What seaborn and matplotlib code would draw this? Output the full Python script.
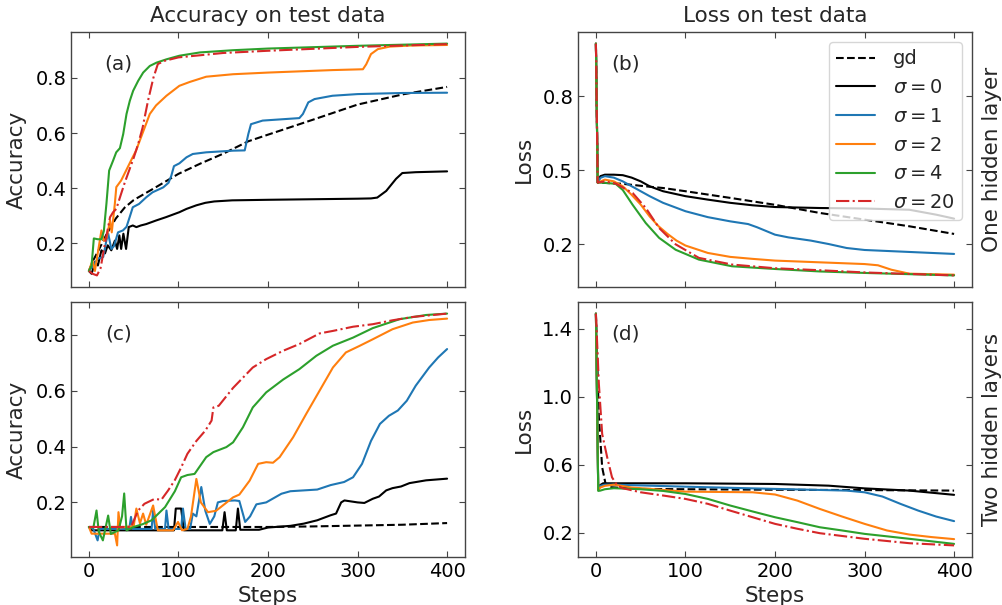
import matplotlib
matplotlib.use("Agg")
import matplotlib.pyplot as plt
import seaborn as sns
import pandas as pd

# ---------------- data ----------------
LABELS = ["gd", r"$\sigma = 0$", r"$\sigma = 1$", r"$\sigma = 2$", r"$\sigma = 4$", r"$\sigma = 20$"]
XTICKS = [0, 100, 200, 300, 400]

# (a) accuracy, one hidden layer
A_GD_X = [0, 5, 10, 20, 30, 40, 50, 75, 100, 125, 150, 178, 200, 250, 300, 352, 400]
A_GD_Y = [0.10, 0.14, 0.17, 0.235, 0.29, 0.33, 0.357, 0.404, 0.452, 0.49, 0.525, 0.57, 0.594, 0.648, 0.703, 0.741, 0.767]
A_S0_X = [0, 3, 7, 10, 14, 18, 21, 25, 29, 31.5, 34, 36, 38.5, 41.5, 44.5, 49, 53, 58, 64, 75, 86, 101, 109, 120, 130, 140, 160, 200, 250, 300, 315, 322, 332, 343, 350, 365, 400]
A_S0_Y = [0.10, 0.09, 0.133, 0.12, 0.175, 0.164, 0.193, 0.175, 0.21, 0.18, 0.229, 0.18, 0.235, 0.18, 0.259, 0.265, 0.259, 0.265, 0.27, 0.283, 0.295, 0.313, 0.325, 0.338, 0.347, 0.352, 0.356, 0.358, 0.360, 0.362, 0.363, 0.366, 0.39, 0.434, 0.455, 0.458, 0.461]
A_S1_X = [0, 5, 10, 16, 19.5, 21.5, 25, 28, 32.5, 38, 42, 45.5, 49, 56, 64, 71, 83, 89, 92, 95, 101, 109, 116, 131, 161, 174, 178, 181, 194, 235, 239, 245, 252, 272, 300, 350, 400]
A_S1_Y = [0.10, 0.12, 0.145, 0.151, 0.21, 0.236, 0.18, 0.19, 0.24, 0.247, 0.26, 0.295, 0.331, 0.343, 0.367, 0.385, 0.403, 0.42, 0.445, 0.48, 0.49, 0.512, 0.524, 0.53, 0.536, 0.537, 0.596, 0.632, 0.645, 0.654, 0.669, 0.711, 0.723, 0.735, 0.741, 0.745, 0.746]
A_S2_X = [0, 4, 6.7, 10.4, 14, 16.7, 19.6, 23.6, 25.5, 29, 30.6, 36, 41.5, 47, 52.6, 60, 68, 75, 86.6, 101, 112.6, 131, 161, 200, 272, 306, 309.7, 315, 322.7, 335.7, 360, 400]
A_S2_Y = [0.10, 0.138, 0.10, 0.175, 0.247, 0.21, 0.218, 0.283, 0.24, 0.345, 0.404, 0.428, 0.464, 0.50, 0.536, 0.60, 0.669, 0.70, 0.735, 0.771, 0.785, 0.804, 0.813, 0.819, 0.828, 0.831, 0.849, 0.886, 0.904, 0.913, 0.917, 0.919]
A_S4_X = [0, 3, 5.5, 10, 14, 16.7, 19.6, 22.6, 27, 30.5, 34.6, 38.3, 42, 45.7, 49.4, 55, 60.6, 68, 75.5, 86.6, 101, 124, 161, 200, 250, 300, 350, 400]
A_S4_Y = [0.10, 0.12, 0.218, 0.215, 0.215, 0.245, 0.345, 0.464, 0.50, 0.53, 0.545, 0.596, 0.669, 0.717, 0.753, 0.789, 0.819, 0.843, 0.855, 0.867, 0.88, 0.892, 0.90, 0.906, 0.911, 0.916, 0.92, 0.924]
A_S20_X = [0, 4, 9, 13, 18, 23.6, 27, 30.6, 35, 40, 45, 50, 55, 60, 66, 72, 77, 85, 100, 150, 200, 300, 400]
A_S20_Y = [0.10, 0.09, 0.084, 0.11, 0.20, 0.295, 0.313, 0.325, 0.37, 0.42, 0.465, 0.51, 0.56, 0.62, 0.717, 0.80, 0.85, 0.862, 0.874, 0.89, 0.898, 0.912, 0.922]

# (b) loss, one hidden layer
B_GD_X = [0, 2, 30, 55, 75, 100, 150, 200, 250, 300, 350, 400]
B_GD_Y = [1.013, 0.45, 0.445, 0.435, 0.428, 0.415, 0.388, 0.36, 0.327, 0.30, 0.273, 0.242]
B_S0_X = [0, 2, 5, 10, 20, 30, 40, 50, 60, 75, 100, 125, 150, 175, 200, 250, 300, 350, 380, 400]
B_S0_Y = [1.013, 0.45, 0.476, 0.482, 0.482, 0.48, 0.47, 0.455, 0.435, 0.415, 0.395, 0.381, 0.368, 0.358, 0.351, 0.347, 0.345, 0.34, 0.32, 0.304]
B_S1_X = [0, 2, 5, 10, 20, 30, 40, 50, 60, 75, 100, 125, 150, 170, 180, 200, 215, 240, 260, 280, 300, 350, 400]
B_S1_Y = [1.013, 0.45, 0.469, 0.476, 0.47, 0.455, 0.435, 0.415, 0.395, 0.368, 0.334, 0.31, 0.293, 0.282, 0.269, 0.239, 0.228, 0.215, 0.201, 0.185, 0.177, 0.169, 0.161]
B_S2_X = [0, 2, 10, 20, 30, 40, 50, 60, 70, 80, 90, 100, 125, 150, 175, 200, 250, 300, 315, 330, 350, 400]
B_S2_Y = [1.013, 0.45, 0.462, 0.455, 0.435, 0.40, 0.361, 0.313, 0.273, 0.242, 0.215, 0.195, 0.165, 0.149, 0.141, 0.134, 0.127, 0.12, 0.115, 0.097, 0.081, 0.077]
B_S4_X = [0, 2, 10, 22, 30, 41, 55.7, 70.6, 89, 115, 152, 200, 250, 300, 400]
B_S4_Y = [1.013, 0.45, 0.449, 0.445, 0.42, 0.36, 0.286, 0.226, 0.178, 0.138, 0.111, 0.10, 0.09, 0.084, 0.074]
B_S20_X = [0, 2, 10, 22, 30, 41, 55.7, 70.6, 89, 115, 152, 200, 250, 300, 400]
B_S20_Y = [1.013, 0.45, 0.455, 0.446, 0.43, 0.408, 0.347, 0.266, 0.20, 0.145, 0.118, 0.103, 0.095, 0.086, 0.074]

# (c) accuracy, two hidden layers
C_GD_X = [0, 100, 200, 250, 300, 350, 400]
C_GD_Y = [0.112, 0.112, 0.112, 0.114, 0.117, 0.12, 0.126]
C_S0_X = [0, 3, 95, 97, 103, 106, 149, 151.5, 154, 164, 166.4, 169, 190, 200, 225, 240, 255, 270, 276, 281.7, 285.4, 300, 307.6, 317, 324, 332, 339, 348.6, 358, 376.5, 400]
C_S0_Y = [0.112, 0.1, 0.1, 0.178, 0.178, 0.1, 0.1, 0.165, 0.1, 0.1, 0.178, 0.102, 0.102, 0.11, 0.116, 0.124, 0.136, 0.154, 0.16, 0.2, 0.207, 0.2, 0.198, 0.213, 0.221, 0.243, 0.251, 0.257, 0.269, 0.279, 0.285]
C_S1_X = [0, 5, 9.7, 12, 45, 47, 49, 70, 71.7, 74, 85, 86.6, 89, 103, 105, 108, 113, 116, 120, 125.5, 130, 135, 140, 144, 150, 163, 168, 174.5, 180, 187, 198, 215, 225, 240, 255, 270, 285, 295, 305, 315, 325, 335, 345, 355, 365, 380, 390, 400]
C_S1_Y = [0.112, 0.105, 0.064, 0.105, 0.105, 0.148, 0.105, 0.105, 0.171, 0.105, 0.105, 0.171, 0.105, 0.105, 0.178, 0.105, 0.105, 0.16, 0.15, 0.255, 0.17, 0.123, 0.15, 0.2, 0.205, 0.207, 0.205, 0.13, 0.15, 0.193, 0.2, 0.231, 0.24, 0.243, 0.246, 0.262, 0.273, 0.29, 0.338, 0.42, 0.481, 0.51, 0.529, 0.564, 0.618, 0.683, 0.719, 0.749]
C_S2_X = [0, 3, 29, 31.5, 33, 35, 50, 53, 57, 60.5, 64, 71.7, 77, 94, 99.5, 104, 110, 114, 120, 125, 133, 142, 161, 168, 179.5, 189, 198, 205.6, 213, 228, 242.7, 257.6, 272.5, 287, 302, 317, 339, 361.7, 380, 400]
C_S2_Y = [0.112, 0.088, 0.088, 0.046, 0.165, 0.11, 0.115, 0.178, 0.125, 0.16, 0.12, 0.189, 0.1, 0.1, 0.13, 0.1, 0.105, 0.15, 0.284, 0.2, 0.165, 0.17, 0.218, 0.228, 0.278, 0.338, 0.344, 0.342, 0.362, 0.433, 0.517, 0.60, 0.683, 0.737, 0.76, 0.784, 0.82, 0.844, 0.853, 0.858]
C_S4_X = [0, 5, 8.5, 11, 15.6, 18, 21.5, 24.5, 33, 37, 39.4, 42, 50, 60, 70, 85, 96, 103, 110, 118, 131, 139, 153.5, 161, 172, 183, 198, 217, 235, 254, 272.5, 295, 317, 347, 376.5, 400]
C_S4_Y = [0.112, 0.11, 0.171, 0.095, 0.064, 0.1, 0.153, 0.087, 0.1, 0.15, 0.232, 0.1, 0.112, 0.122, 0.136, 0.183, 0.24, 0.29, 0.298, 0.302, 0.362, 0.38, 0.398, 0.415, 0.469, 0.54, 0.594, 0.64, 0.677, 0.725, 0.761, 0.79, 0.824, 0.856, 0.871, 0.876]
C_S20_X = [0, 47, 55, 62, 73, 81, 88.5, 96, 103, 110, 120, 130, 137, 139, 145, 161, 183, 198, 217, 235, 257.6, 272.5, 295, 317, 339, 361.7, 400]
C_S20_Y = [0.112, 0.112, 0.171, 0.195, 0.212, 0.21, 0.243, 0.28, 0.325, 0.374, 0.42, 0.457, 0.493, 0.54, 0.546, 0.61, 0.683, 0.713, 0.743, 0.767, 0.805, 0.814, 0.829, 0.838, 0.852, 0.864, 0.876]

# (d) loss, two hidden layers
D_GD_X = [0, 3.3, 7, 10.8, 16, 50, 100, 200, 300, 400]
D_GD_Y = [1.49, 0.878, 0.584, 0.486, 0.467, 0.457, 0.455, 0.452, 0.45, 0.447]
D_S0_X = [0, 2.6, 5, 8, 15, 100, 200, 260, 300, 350, 400]
D_S0_Y = [1.49, 0.455, 0.48, 0.49, 0.49, 0.49, 0.486, 0.476, 0.46, 0.447, 0.422]
D_S1_X = [0, 2.6, 5, 10, 20, 100, 200, 280, 300, 320, 340, 360, 380, 400]
D_S1_Y = [1.49, 0.45, 0.475, 0.482, 0.482, 0.47, 0.457, 0.447, 0.437, 0.412, 0.369, 0.329, 0.294, 0.267]
D_S2_X = [0, 2.6, 5, 10, 20, 40, 100, 175, 200, 225, 250, 275, 300, 325, 350, 375, 400]
D_S2_Y = [1.49, 0.45, 0.465, 0.475, 0.482, 0.465, 0.441, 0.437, 0.424, 0.388, 0.339, 0.294, 0.251, 0.212, 0.188, 0.173, 0.161]
D_S4_X = [0, 2.6, 5, 10, 20, 50, 75, 100, 125, 150, 175, 200, 225, 250, 275, 300, 350, 400]
D_S4_Y = [1.49, 0.445, 0.447, 0.455, 0.461, 0.455, 0.445, 0.427, 0.398, 0.359, 0.324, 0.29, 0.261, 0.231, 0.212, 0.192, 0.163, 0.133]
D_S20_X = [0, 3.3, 7, 12.6, 18, 24, 30, 50, 75, 100, 125, 150, 175, 200, 225, 250, 300, 350, 400]
D_S20_Y = [1.49, 1.076, 0.78, 0.643, 0.525, 0.476, 0.461, 0.437, 0.418, 0.398, 0.369, 0.329, 0.29, 0.251, 0.222, 0.196, 0.163, 0.137, 0.124]

# ---------------- style ----------------
COLORS = ["black", "black", "#1f77b4", "#ff7f0e", "#2ca02c", "#d62728"]
STYLES = ["--", "-", "-", "-", "-", "-."]
EDGE = "#444444"

sns.set_style("ticks")
plt.rcParams.update({
    "font.family": ["DejaVu Sans"],
    "axes.edgecolor": EDGE,
    "axes.linewidth": 1.0,
    "xtick.color": EDGE,
    "ytick.color": EDGE,
    "xtick.labelcolor": "black",
    "ytick.labelcolor": "black",
})

fig = plt.figure(figsize=(10.03, 6.05), dpi=100)
W, H = 1003.0, 605.0
def pos(l, t, r, b):
    return [l / W, 1 - b / H, (r - l) / W, (b - t) / H]

ax_a = fig.add_axes(pos(71, 32, 465, 287))
ax_b = fig.add_axes(pos(578, 32, 972, 287))
ax_c = fig.add_axes(pos(71, 302, 465, 557))
ax_d = fig.add_axes(pos(578, 302, 972, 557))

panels = [
    (ax_a, [(A_GD_X, A_GD_Y), (A_S0_X, A_S0_Y), (A_S1_X, A_S1_Y), (A_S2_X, A_S2_Y), (A_S4_X, A_S4_Y), (A_S20_X, A_S20_Y)], "(a)", [0.2, 0.4, 0.6, 0.8]),
    (ax_b, [(B_GD_X, B_GD_Y), (B_S0_X, B_S0_Y), (B_S1_X, B_S1_Y), (B_S2_X, B_S2_Y), (B_S4_X, B_S4_Y), (B_S20_X, B_S20_Y)], "(b)", [0.2, 0.5, 0.8]),
    (ax_c, [(C_GD_X, C_GD_Y), (C_S0_X, C_S0_Y), (C_S1_X, C_S1_Y), (C_S2_X, C_S2_Y), (C_S4_X, C_S4_Y), (C_S20_X, C_S20_Y)], "(c)", [0.2, 0.4, 0.6, 0.8]),
    (ax_d, [(D_GD_X, D_GD_Y), (D_S0_X, D_S0_Y), (D_S1_X, D_S1_Y), (D_S2_X, D_S2_Y), (D_S4_X, D_S4_Y), (D_S20_X, D_S20_Y)], "(d)", [0.2, 0.6, 1.0, 1.4]),
]

for ax, series, tag, yticks in panels:
    for (xs, ys), lab, col, ls in zip(series, LABELS, COLORS, STYLES):
        df = pd.DataFrame({"Steps": xs, "v": ys})
        sns.lineplot(data=df, x="Steps", y="v", ax=ax, color=col, linestyle=ls,
                     linewidth=1.5, estimator=None, sort=False, label=lab)
    if ax.get_legend() is not None:
        ax.get_legend().remove()
    ax.set_xticks(XTICKS)
    ax.set_yticks(yticks)
    ax.tick_params(direction="in", top=True, right=True, labelsize=14, length=4, width=0.8)
    ax.text(0.12, 0.875, tag, transform=ax.transAxes, fontsize=14.5, ha="center", va="center")
    ax.set_xlabel("")
    ax.set_ylabel("")

ax_a.tick_params(labelbottom=False)
ax_b.tick_params(labelbottom=False)
ax_a.set_title("Accuracy on test data", fontsize=15.5, pad=7)
ax_b.set_title("Loss on test data", fontsize=15.5, pad=7)
ax_a.set_ylabel("Accuracy", fontsize=15.5, labelpad=6)
ax_c.set_ylabel("Accuracy", fontsize=15.5, labelpad=6)
ax_b.set_ylabel("Loss", fontsize=15.5, labelpad=6)
ax_d.set_ylabel("Loss", fontsize=15.5, labelpad=6)
ax_c.set_xlabel("Steps", fontsize=15.5, labelpad=4)
ax_d.set_xlabel("Steps", fontsize=15.5, labelpad=4)

ax_b.text(1.025, 0.5, "One hidden layer", transform=ax_b.transAxes, rotation=90,
          fontsize=15.5, ha="left", va="center")
ax_d.text(1.025, 0.5, "Two hidden layers", transform=ax_d.transAxes, rotation=90,
          fontsize=15.5, ha="left", va="center")

handles = ax_b.get_lines()[:6]
ax_b.legend(handles, LABELS, loc="upper right", fontsize=14, framealpha=0.8,
            handlelength=2.0, handletextpad=0.9, labelspacing=0.5, borderpad=0.4)

fig.savefig("out.png", dpi=100)
